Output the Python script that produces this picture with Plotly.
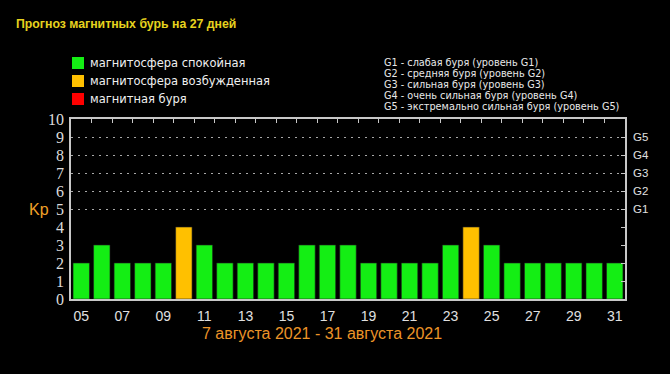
import plotly.graph_objects as go

# ---- data ----
days = list(range(5, 32))
kp_values = [2, 3, 2, 2, 2, 4, 3, 2, 2, 2, 2, 3, 3, 3, 2, 2, 2, 2, 3, 4, 3, 2, 2, 2, 2, 2, 2]
x_tick_vals = list(range(5, 32, 2))
x_tick_text = ["%02d" % d for d in x_tick_vals]
y_tick_vals = list(range(0, 11))
g_levels = [5, 6, 7, 8, 9]
g_labels = ["G1", "G2", "G3", "G4", "G5"]
legend_labels = ["магнитосфера спокойная", "магнитосфера возбужденная", "магнитная буря"]
g_descriptions = [
    "G1 - слабая буря (уровень G1)",
    "G2 - средняя буря (уровень G2)",
    "G3 - сильная буря (уровень G3)",
    "G4 - очень сильная буря (уровень G4)",
    "G5 - экстремально сильная буря (уровень G5)",
]
title_text = "Прогноз магнитных бурь на 27 дней"
period_text = "7 августа 2021 - 31 августа 2021"

GREEN = "#14ee14"
ORANGE = "#ffc000"
RED = "#ff0000"
FRAME = "#c8c8c8"


def color_for(v):
    if v >= 5:
        return RED
    if v >= 4:
        return ORANGE
    return GREEN


colors = [color_for(v) for v in kp_values]

# plot area in pixels
L, R, T, B = 71, 45, 119, 75
W, H = 670, 374
PW, PH = W - L - R, H - T - B


def px(xp):
    return (xp - L) / PW


def py(yp):
    return (H - B - yp) / PH


fig = go.Figure()
fig.add_trace(go.Bar(
    x=days, y=kp_values, width=0.8,
    marker=dict(color=colors, line=dict(width=0.6, color="#202020")),
    showlegend=False, hoverinfo="x+y",
))
# same data on the secondary (top/right) axes so they get drawn; invisible marks
fig.add_trace(go.Scatter(
    x=days, y=kp_values, xaxis="x2", yaxis="y2", mode="markers",
    marker=dict(opacity=0, size=1), showlegend=False, hoverinfo="skip",
))

fig.update_layout(
    width=W, height=H,
    margin=dict(l=L, r=R, t=T, b=B, pad=0),
    paper_bgcolor="black", plot_bgcolor="black",
    showlegend=False,
    xaxis=dict(
        range=[4.5, 31.5], tickmode="array", tickvals=x_tick_vals, ticktext=x_tick_text,
        ticks="", showgrid=False, zeroline=False,
        showline=True, linecolor=FRAME, linewidth=1.5,
        tickfont=dict(family="Liberation Sans", size=14, color="#e0e0e0"),
        ticklabelstandoff=3,
    ),
    xaxis2=dict(
        range=[4.5, 31.5], overlaying="x", side="top", anchor="y2",
        tickmode="array", tickvals=[d + 0.5 for d in days[:-1]],
        ticks="inside", ticklen=4, tickcolor=FRAME, tickwidth=1.2,
        showticklabels=False, showgrid=False, zeroline=False,
        showline=True, linecolor=FRAME, linewidth=1.5,
    ),
    yaxis=dict(
        range=[0, 10], tickmode="array", tickvals=y_tick_vals,
        ticks="", showgrid=False, zeroline=False,
        showline=True, linecolor=FRAME, linewidth=1.5,
        tickfont=dict(family="Liberation Serif", size=16, color="#dcdcdc"),
        ticklabelstandoff=2,
    ),
    yaxis2=dict(
        range=[0, 10], overlaying="y", side="right", anchor="x2",
        tickmode="array", tickvals=g_levels, ticktext=g_labels,
        ticks="inside", ticklen=4, tickcolor=FRAME, tickwidth=1.2,
        showgrid=True, gridcolor="#a8a8a8", griddash="1.5px,5.5px", gridwidth=1.3,
        minor=dict(tickvals=[1, 2, 3, 4], ticks="inside", ticklen=4, tickcolor=FRAME, showgrid=False),
        zeroline=False, showline=True, linecolor=FRAME, linewidth=1.5,
        tickfont=dict(family="Liberation Sans", size=11.5, color="#e0e0e0"),
        ticklabelstandoff=4,
    ),
)

annotations = []
shapes = []

annotations.append(dict(
    text="<b>%s</b>" % title_text, xref="paper", yref="paper",
    x=px(14), y=py(24), xanchor="left", yanchor="middle", showarrow=False,
    font=dict(family="Liberation Sans", size=12.3, color="#e6d21e"),
))

legend_colors = [GREEN, ORANGE, RED]
legend_rows = [63, 81, 99]
for lbl, col, yc in zip(legend_labels, legend_colors, legend_rows):
    shapes.append(dict(
        type="rect", xref="paper", yref="paper",
        x0=px(72), x1=px(84), y0=py(yc - 6), y1=py(yc + 6),
        fillcolor=col, line=dict(width=0),
    ))
    annotations.append(dict(
        text=lbl, xref="paper", yref="paper",
        x=px(88), y=py(yc), xanchor="left", yanchor="middle", showarrow=False,
        font=dict(family="DejaVu Sans", size=11.5, color="#f0f0f0"),
    ))

g_rows = [62, 73, 84, 95, 106]
for txt, yc in zip(g_descriptions, g_rows):
    annotations.append(dict(
        text=txt, xref="paper", yref="paper",
        x=px(382), y=py(yc), xanchor="left", yanchor="middle", showarrow=False,
        font=dict(family="DejaVu Sans", size=9.7, color="#e8e8e8"),
    ))

annotations.append(dict(
    text="Kp", xref="paper", yref="paper",
    x=px(39), y=py(209), xanchor="center", yanchor="middle", showarrow=False,
    font=dict(family="Liberation Sans", size=16, color="#f0a028"),
))

annotations.append(dict(
    text=period_text, xref="paper", yref="paper",
    x=px(322), y=py(333), xanchor="center", yanchor="middle", showarrow=False,
    font=dict(family="Liberation Sans", size=16, color="#ec9428"),
))

fig.update_layout(annotations=annotations, shapes=shapes)

fig.write_html(
    "out.html",
    config={"displayModeBar": False},
    post_script="document.body.style.margin='0';document.body.style.background='black';",
)
